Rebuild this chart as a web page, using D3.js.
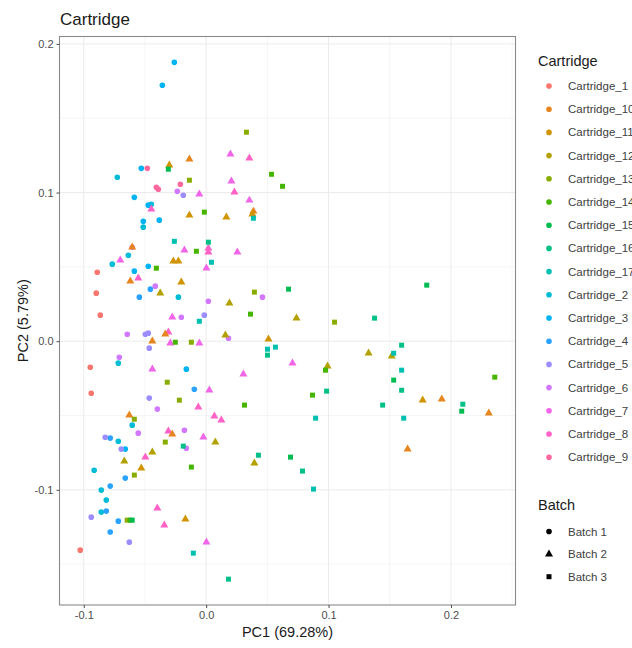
<!DOCTYPE html>
<html>
<head>
<meta charset="utf-8">
<script src="https://cdn.jsdelivr.net/npm/d3@7/dist/d3.min.js"></script>
<style>
  body { margin: 0; background: #fff; }
  svg { display: block; font-family: "Liberation Sans", Arial, sans-serif; }
  .grid-major line { stroke: #ebebeb; stroke-width: 1; }
  .grid-minor line { stroke: #f2f2f2; stroke-width: 0.8; }
  .axis text { fill: #4d4d4d; font-size: 11px; }
  .axis line { stroke: #4d4d4d; }
  .axis path { display: none; }
  .panel-border { fill: none; stroke: #8a8a8a; stroke-width: 1.1; }
  .title { font-size: 17px; fill: #1a1a1a; }
  .axis-title { font-size: 14.5px; fill: #1a1a1a; }
  .legend-title { font-size: 14.5px; fill: #1a1a1a; }
  .legend-label { font-size: 11.5px; fill: #404040; }
</style>
</head>
<body>
<svg id="chart"></svg>
<script>
// factor levels in ggplot order
const cartridges = ['Cartridge_1', 'Cartridge_10', 'Cartridge_11', 'Cartridge_12', 'Cartridge_13',
  'Cartridge_14', 'Cartridge_15', 'Cartridge_16', 'Cartridge_17', 'Cartridge_2', 'Cartridge_3',
  'Cartridge_4', 'Cartridge_5', 'Cartridge_6', 'Cartridge_7', 'Cartridge_8', 'Cartridge_9'];
const batches = ['Batch 1', 'Batch 2', 'Batch 3'];

const xTicks = [-0.1, 0.0, 0.1, 0.2];
const yTicks = [-0.1, 0.0, 0.1, 0.2];
const xMinor = [-0.05, 0.05, 0.15, 0.25];
const yMinor = [-0.15, -0.05, 0.05, 0.15];

// [PC1, PC2, cartridge, batch]
const points = [
  [-0.0890, 0.0464, 'Cartridge_1', 'Batch 1'], [-0.0898, 0.0323, 'Cartridge_1', 'Batch 1'],
  [-0.0865, 0.0175, 'Cartridge_1', 'Batch 1'], [-0.0947, -0.0175, 'Cartridge_1', 'Batch 1'],
  [-0.0939, -0.0350, 'Cartridge_1', 'Batch 1'], [-0.1029, -0.1406, 'Cartridge_1', 'Batch 1'],

  [-0.0726, 0.1103, 'Cartridge_2', 'Batch 1'], [-0.0448, 0.0921, 'Cartridge_2', 'Batch 1'],
  [-0.0514, 0.0767, 'Cartridge_2', 'Batch 1'], [-0.0636, 0.0578, 'Cartridge_2', 'Batch 1'],
  [-0.0767, 0.0518, 'Cartridge_2', 'Batch 1'], [-0.0227, 0.0296, 'Cartridge_2', 'Batch 1'],
  [-0.0718, -0.0148, 'Cartridge_2', 'Batch 1'], [-0.0604, -0.0565, 'Cartridge_2', 'Batch 1'],
  [-0.0718, -0.0673, 'Cartridge_2', 'Batch 1'], [-0.0915, -0.0868, 'Cartridge_2', 'Batch 1'],
  [-0.0857, -0.1002, 'Cartridge_2', 'Batch 1'], [-0.0816, -0.1069, 'Cartridge_2', 'Batch 1'],
  [-0.0857, -0.1150, 'Cartridge_2', 'Batch 1'],

  [-0.0260, 0.1876, 'Cartridge_3', 'Batch 1'], [-0.0358, 0.1722, 'Cartridge_3', 'Batch 1'],
  [-0.0530, 0.1163, 'Cartridge_3', 'Batch 1'], [-0.0587, 0.0968, 'Cartridge_3', 'Batch 1'],
  [-0.0473, 0.0915, 'Cartridge_3', 'Batch 1'], [-0.0514, 0.0807, 'Cartridge_3', 'Batch 1'],
  [-0.0383, 0.0814, 'Cartridge_3', 'Batch 1'], [-0.0473, 0.0504, 'Cartridge_3', 'Batch 1'],
  [-0.0587, 0.0471, 'Cartridge_3', 'Batch 1'], [-0.0162, -0.0188, 'Cartridge_3', 'Batch 1'],
  [-0.0661, -0.0726, 'Cartridge_3', 'Batch 1'],

  [-0.0456, 0.0350, 'Cartridge_4', 'Batch 1'], [-0.0546, 0.0296, 'Cartridge_4', 'Batch 1'],
  [-0.0097, -0.0323, 'Cartridge_4', 'Batch 1'], [-0.0784, -0.0652, 'Cartridge_4', 'Batch 1'],
  [-0.0661, -0.0921, 'Cartridge_4', 'Batch 1'], [-0.0784, -0.0975, 'Cartridge_4', 'Batch 1'],
  [-0.0816, -0.1143, 'Cartridge_4', 'Batch 1'], [-0.0718, -0.1211, 'Cartridge_4', 'Batch 1'],
  [-0.0784, -0.1284, 'Cartridge_4', 'Batch 1'],

  [-0.0187, 0.0982, 'Cartridge_5', 'Batch 1'], [-0.0015, 0.0175, 'Cartridge_5', 'Batch 1'],
  [-0.0497, 0.0047, 'Cartridge_5', 'Batch 1'], [-0.0473, 0.0054, 'Cartridge_5', 'Batch 1'],
  [-0.0465, -0.0047, 'Cartridge_5', 'Batch 1'], [-0.0465, -0.0383, 'Cartridge_5', 'Batch 1'],
  [-0.0825, -0.0646, 'Cartridge_5', 'Batch 1'], [-0.0694, -0.0726, 'Cartridge_5', 'Batch 1'],
  [-0.0939, -0.1184, 'Cartridge_5', 'Batch 1'], [-0.0628, -0.1352, 'Cartridge_5', 'Batch 1'],

  [-0.0236, 0.1009, 'Cartridge_6', 'Batch 1'], [-0.0604, 0.0632, 'Cartridge_6', 'Batch 1'],
  [-0.0416, 0.0370, 'Cartridge_6', 'Batch 1'], [0.0018, 0.0269, 'Cartridge_6', 'Batch 1'],
  [-0.0203, 0.0161, 'Cartridge_6', 'Batch 1'], [-0.0645, 0.0047, 'Cartridge_6', 'Batch 1'],
  [-0.0710, -0.0108, 'Cartridge_6', 'Batch 1'], [-0.0399, -0.0457, 'Cartridge_6', 'Batch 1'],
  [-0.0555, -0.0619, 'Cartridge_6', 'Batch 1'], [-0.0178, -0.0599, 'Cartridge_6', 'Batch 1'],
  [-0.0162, -0.0720, 'Cartridge_6', 'Batch 1'], [0.0460, 0.0296, 'Cartridge_6', 'Batch 1'],
  [0.0182, 0.0020, 'Cartridge_6', 'Batch 1'],

  [-0.0481, 0.1163, 'Cartridge_9', 'Batch 1'], [-0.0211, 0.1056, 'Cartridge_9', 'Batch 1'],
  [-0.0407, 0.1036, 'Cartridge_9', 'Batch 1'], [-0.0391, 0.1022, 'Cartridge_9', 'Batch 1'],

  [-0.0056, 0.0989, 'Cartridge_7', 'Batch 2'], [-0.0178, 0.0612, 'Cartridge_7', 'Batch 2'],
  [-0.0702, 0.0545, 'Cartridge_7', 'Batch 2'], [0.0002, 0.0491, 'Cartridge_7', 'Batch 2'],
  [-0.0277, 0.0161, 'Cartridge_7', 'Batch 2'], [-0.0293, -0.0013, 'Cartridge_7', 'Batch 2'],
  [-0.0056, -0.0013, 'Cartridge_7', 'Batch 2'], [-0.0440, -0.0188, 'Cartridge_7', 'Batch 2'],
  [0.0026, -0.0330, 'Cartridge_7', 'Batch 2'], [-0.0023, -0.0646, 'Cartridge_7', 'Batch 2'],
  [0.0002, -0.1352, 'Cartridge_7', 'Batch 2'], [0.0198, 0.1258, 'Cartridge_7', 'Batch 2'],
  [0.0206, 0.1076, 'Cartridge_7', 'Batch 2'], [0.0353, 0.0948, 'Cartridge_7', 'Batch 2'],
  [0.0255, 0.0599, 'Cartridge_7', 'Batch 2'], [0.0705, -0.0148, 'Cartridge_7', 'Batch 2'],
  [0.0304, -0.0222, 'Cartridge_7', 'Batch 2'],

  [-0.0448, 0.0888, 'Cartridge_8', 'Batch 2'], [0.0018, 0.0625, 'Cartridge_8', 'Batch 2'],
  [0.0018, 0.0599, 'Cartridge_8', 'Batch 2'], [-0.0555, 0.0424, 'Cartridge_8', 'Batch 2'],
  [-0.0309, 0.0061, 'Cartridge_8', 'Batch 2'], [-0.0064, -0.0444, 'Cartridge_8', 'Batch 2'],
  [0.0067, -0.0504, 'Cartridge_8', 'Batch 2'], [0.0124, -0.0531, 'Cartridge_8', 'Batch 2'],
  [-0.0309, -0.0605, 'Cartridge_8', 'Batch 2'], [-0.0497, -0.0780, 'Cartridge_8', 'Batch 2'],
  [-0.0399, -0.1123, 'Cartridge_8', 'Batch 2'], [-0.0342, -0.1237, 'Cartridge_8', 'Batch 2'],
  [0.0353, 0.1231, 'Cartridge_8', 'Batch 2'], [0.0231, 0.1002, 'Cartridge_8', 'Batch 2'],

  [-0.0137, 0.1224, 'Cartridge_10', 'Batch 2'], [-0.0604, 0.0632, 'Cartridge_10', 'Batch 2'],
  [-0.0620, 0.0404, 'Cartridge_10', 'Batch 2'], [-0.0334, 0.0047, 'Cartridge_10', 'Batch 2'],
  [-0.0440, 0.0000, 'Cartridge_10', 'Batch 2'], [-0.0628, -0.0498, 'Cartridge_10', 'Batch 2'],
  [-0.0277, -0.0625, 'Cartridge_10', 'Batch 2'], [0.0386, 0.0874, 'Cartridge_10', 'Batch 2'],
  [0.1925, -0.0390, 'Cartridge_10', 'Batch 2'], [0.2309, -0.0484, 'Cartridge_10', 'Batch 2'],
  [0.1646, -0.0726, 'Cartridge_10', 'Batch 2'],

  [-0.0301, 0.1184, 'Cartridge_11', 'Batch 2'], [-0.0137, 0.0847, 'Cartridge_11', 'Batch 2'],
  [-0.0268, 0.0538, 'Cartridge_11', 'Batch 2'], [-0.0227, 0.0538, 'Cartridge_11', 'Batch 2'],
  [-0.0203, 0.0397, 'Cartridge_11', 'Batch 2'], [-0.0530, -0.0854, 'Cartridge_11', 'Batch 2'],
  [-0.0170, -0.1197, 'Cartridge_11', 'Batch 2'], [0.0378, 0.0854, 'Cartridge_11', 'Batch 2'],
  [0.0165, 0.0834, 'Cartridge_11', 'Batch 2'], [0.0509, 0.0013, 'Cartridge_11', 'Batch 2'],
  [0.1769, -0.0397, 'Cartridge_11', 'Batch 2'],

  [-0.0375, 0.0323, 'Cartridge_12', 'Batch 2'], [0.0075, -0.0679, 'Cartridge_12', 'Batch 2'],
  [-0.0440, -0.0746, 'Cartridge_12', 'Batch 2'], [-0.0669, -0.0807, 'Cartridge_12', 'Batch 2'],
  [0.0190, 0.0256, 'Cartridge_12', 'Batch 2'], [0.0738, 0.0155, 'Cartridge_12', 'Batch 2'],
  [0.0157, 0.0040, 'Cartridge_12', 'Batch 2'], [0.0992, -0.0168, 'Cartridge_12', 'Batch 2'],
  [0.0394, -0.0820, 'Cartridge_12', 'Batch 2'], [0.1327, -0.0081, 'Cartridge_12', 'Batch 2'],
  [0.1516, -0.0101, 'Cartridge_12', 'Batch 2'],

  [-0.0137, 0.1083, 'Cartridge_13', 'Batch 3'], [-0.0121, -0.0007, 'Cartridge_13', 'Batch 3'],
  [-0.0318, -0.0276, 'Cartridge_13', 'Batch 3'], [-0.0219, -0.0397, 'Cartridge_13', 'Batch 3'],
  [-0.0587, -0.0525, 'Cartridge_13', 'Batch 3'], [-0.0334, -0.0679, 'Cartridge_13', 'Batch 3'],
  [-0.0587, -0.0901, 'Cartridge_13', 'Batch 3'], [-0.0645, -0.1204, 'Cartridge_13', 'Batch 3'],
  [0.0329, 0.1406, 'Cartridge_13', 'Batch 3'], [0.0394, 0.0330, 'Cartridge_13', 'Batch 3'],
  [0.1049, 0.0128, 'Cartridge_13', 'Batch 3'],

  [-0.0015, 0.0868, 'Cartridge_14', 'Batch 3'], [-0.0080, 0.0605, 'Cartridge_14', 'Batch 3'],
  [-0.0407, 0.0491, 'Cartridge_14', 'Batch 3'], [-0.0252, -0.0007, 'Cartridge_14', 'Batch 3'],
  [-0.0121, -0.0847, 'Cartridge_14', 'Batch 3'], [-0.0620, -0.1204, 'Cartridge_14', 'Batch 3'],
  [0.0534, 0.1123, 'Cartridge_14', 'Batch 3'], [0.0624, 0.1042, 'Cartridge_14', 'Batch 3'],
  [0.0362, 0.0182, 'Cartridge_14', 'Batch 3'], [0.0313, -0.0430, 'Cartridge_14', 'Batch 3'],
  [0.0975, -0.0195, 'Cartridge_14', 'Batch 3'], [0.0869, -0.0363, 'Cartridge_14', 'Batch 3'],
  [0.2358, -0.0242, 'Cartridge_14', 'Batch 3'],

  [-0.0309, 0.1157, 'Cartridge_15', 'Batch 3'], [-0.0604, -0.1204, 'Cartridge_15', 'Batch 3'],
  [0.0673, 0.0350, 'Cartridge_15', 'Batch 3'], [0.0689, -0.0780, 'Cartridge_15', 'Batch 3'],
  [0.1532, -0.0262, 'Cartridge_15', 'Batch 3'], [0.1802, 0.0377, 'Cartridge_15', 'Batch 3'],
  [0.2088, -0.0471, 'Cartridge_15', 'Batch 3'],

  [0.0018, 0.0666, 'Cartridge_16', 'Batch 3'], [-0.0187, -0.0706, 'Cartridge_16', 'Batch 3'],
  [0.0182, -0.1601, 'Cartridge_16', 'Batch 3'], [0.0501, -0.0094, 'Cartridge_16', 'Batch 3'],
  [0.0427, -0.0767, 'Cartridge_16', 'Batch 3'], [0.0984, -0.0336, 'Cartridge_16', 'Batch 3'],
  [0.1376, 0.0155, 'Cartridge_16', 'Batch 3'], [0.1597, -0.0027, 'Cartridge_16', 'Batch 3'],
  [0.1597, -0.0330, 'Cartridge_16', 'Batch 3'], [0.1442, -0.0430, 'Cartridge_16', 'Batch 3'],
  [0.2097, -0.0424, 'Cartridge_16', 'Batch 3'], [0.0787, -0.0874, 'Cartridge_16', 'Batch 3'],

  [-0.0260, 0.0672, 'Cartridge_17', 'Batch 3'], [0.0043, 0.0531, 'Cartridge_17', 'Batch 3'],
  [-0.0056, 0.0134, 'Cartridge_17', 'Batch 3'], [-0.0105, -0.1426, 'Cartridge_17', 'Batch 3'],
  [0.0877, -0.0995, 'Cartridge_17', 'Batch 3'], [0.0386, 0.0827, 'Cartridge_17', 'Batch 3'],
  [0.0501, -0.0054, 'Cartridge_17', 'Batch 3'], [0.0566, -0.0040, 'Cartridge_17', 'Batch 3'],
  [0.0894, -0.0518, 'Cartridge_17', 'Batch 3'], [0.1532, -0.0081, 'Cartridge_17', 'Batch 3'],
  [0.1597, -0.0195, 'Cartridge_17', 'Batch 3'], [0.1614, -0.0518, 'Cartridge_17', 'Batch 3']
];

// ggplot2 default hue palette (polar LUV, c = 100, l = 65)
function huePal(n) {
  const gam = c => {
    c = c > 0.00304 ? 1.055 * Math.pow(c, 1 / 2.4) - 0.055 : 12.92 * c;
    return Math.round(Math.max(0, Math.min(1, c)) * 255);
  };
  return d3.range(n).map(i => {
    const h = (15 + i * 360 / n) * Math.PI / 180;
    const L = 65, C = 100;
    const Y = Math.pow((L + 16) / 116, 3);
    const u = C * Math.cos(h) / (13 * L) + 0.1978398;
    const v = C * Math.sin(h) / (13 * L) + 0.4683363;
    const X = 9 * Y * u / (4 * v);
    const Z = -X / 3 - 5 * Y + 3 * Y / v;
    return d3.rgb(
      gam(3.240479 * X - 1.537150 * Y - 0.498535 * Z),
      gam(-0.969256 * X + 1.875992 * Y + 0.041556 * Z),
      gam(0.055648 * X - 0.204043 * Y + 1.057311 * Z)
    ).formatHex();
  });
}

class ScatterVis {
  constructor(_config, _data) {
    this.config = {
      parentElement: _config.parentElement,
      width: 632,
      height: 648,
      panel: { left: 59.5, right: 515.5, top: 36.5, bottom: 605 }
    };
    this.data = _data;
    this.initVis();
  }

  initVis() {
    let vis = this;
    const p = vis.config.panel;

    vis.svg = d3.select(vis.config.parentElement)
      .attr('width', vis.config.width)
      .attr('height', vis.config.height);

    // 5% expansion like ggplot
    const pad = ext => { const d = (ext[1] - ext[0]) * 0.05; return [ext[0] - d, ext[1] + d]; };
    vis.xScale = d3.scaleLinear().domain(pad(d3.extent(vis.data, d => d[0]))).range([p.left, p.right]);
    vis.yScale = d3.scaleLinear().domain(pad(d3.extent(vis.data, d => d[1]))).range([p.bottom, p.top]);

    vis.colorScale = d3.scaleOrdinal().domain(cartridges).range(huePal(cartridges.length));
    vis.shapeScale = d3.scaleOrdinal().domain(batches)
      .range([d3.symbolCircle, d3.symbolTriangle, d3.symbolSquare]);
    vis.sizeScale = d3.scaleOrdinal().domain(batches).range([25, 28, 25]);

    vis.renderVis();
  }

  renderVis() {
    let vis = this;
    const p = vis.config.panel;
    const fmt = d => d.toFixed(1);

    // grid
    const minor = vis.svg.append('g').attr('class', 'grid-minor');
    minor.selectAll('line.v').data(xMinor).join('line').attr('class', 'v')
      .attr('x1', d => vis.xScale(d)).attr('x2', d => vis.xScale(d))
      .attr('y1', p.top).attr('y2', p.bottom);
    minor.selectAll('line.h').data(yMinor).join('line').attr('class', 'h')
      .attr('y1', d => vis.yScale(d)).attr('y2', d => vis.yScale(d))
      .attr('x1', p.left).attr('x2', p.right);

    const major = vis.svg.append('g').attr('class', 'grid-major');
    major.selectAll('line.v').data(xTicks).join('line').attr('class', 'v')
      .attr('x1', d => vis.xScale(d)).attr('x2', d => vis.xScale(d))
      .attr('y1', p.top).attr('y2', p.bottom);
    major.selectAll('line.h').data(yTicks).join('line').attr('class', 'h')
      .attr('y1', d => vis.yScale(d)).attr('y2', d => vis.yScale(d))
      .attr('x1', p.left).attr('x2', p.right);

    // points
    vis.svg.append('g')
      .selectAll('path').data(vis.data).join('path')
      .attr('transform', d => `translate(${vis.xScale(d[0])},${vis.yScale(d[1])})`)
      .attr('d', d => d3.symbol(vis.shapeScale(d[3]), vis.sizeScale(d[3]))())
      .attr('fill', d => vis.colorScale(d[2]));

    vis.svg.append('rect').attr('class', 'panel-border')
      .attr('x', p.left).attr('y', p.top)
      .attr('width', p.right - p.left).attr('height', p.bottom - p.top);

    // axes
    vis.svg.append('g').attr('class', 'axis x-axis')
      .attr('transform', `translate(0,${p.bottom})`)
      .call(d3.axisBottom(vis.xScale).tickValues(xTicks).tickFormat(fmt).tickSize(3).tickPadding(3));
    vis.svg.append('g').attr('class', 'axis y-axis')
      .attr('transform', `translate(${p.left},0)`)
      .call(d3.axisLeft(vis.yScale).tickValues(yTicks).tickFormat(fmt).tickSize(3).tickPadding(3));

    vis.svg.append('text').attr('class', 'title')
      .attr('x', 60).attr('y', 25).text('Cartridge');

    vis.svg.append('text').attr('class', 'axis-title')
      .attr('x', (p.left + p.right) / 2).attr('y', 637)
      .attr('text-anchor', 'middle').text('PC1 (69.28%)');
    vis.svg.append('text').attr('class', 'axis-title')
      .attr('transform', `translate(28,${(p.top + p.bottom) / 2}) rotate(-90)`)
      .attr('text-anchor', 'middle').text('PC2 (5.79%)');

    // legends
    const leg = vis.svg.append('g');
    leg.append('text').attr('class', 'legend-title').attr('x', 538).attr('y', 66).text('Cartridge');
    const ci = leg.selectAll('g.citem').data(cartridges).join('g').attr('class', 'citem')
      .attr('transform', (d, i) => `translate(549,${86 + i * 23.2})`);
    ci.append('path').attr('d', d3.symbol(d3.symbolCircle, 25)()).attr('fill', d => vis.colorScale(d));
    ci.append('text').attr('class', 'legend-label').attr('x', 19).attr('dy', '0.35em').text(d => d);

    leg.append('text').attr('class', 'legend-title').attr('x', 538).attr('y', 510).text('Batch');
    const bi = leg.selectAll('g.bitem').data(batches).join('g').attr('class', 'bitem')
      .attr('transform', (d, i) => `translate(549,${531.5 + i * 22.6})`);
    bi.append('path').attr('d', d => d3.symbol(vis.shapeScale(d), vis.sizeScale(d))()).attr('fill', '#000');
    bi.append('text').attr('class', 'legend-label').attr('x', 19).attr('dy', '0.35em').text(d => d);
  }
}

new ScatterVis({ parentElement: '#chart' }, points);
</script>
</body>
</html>
